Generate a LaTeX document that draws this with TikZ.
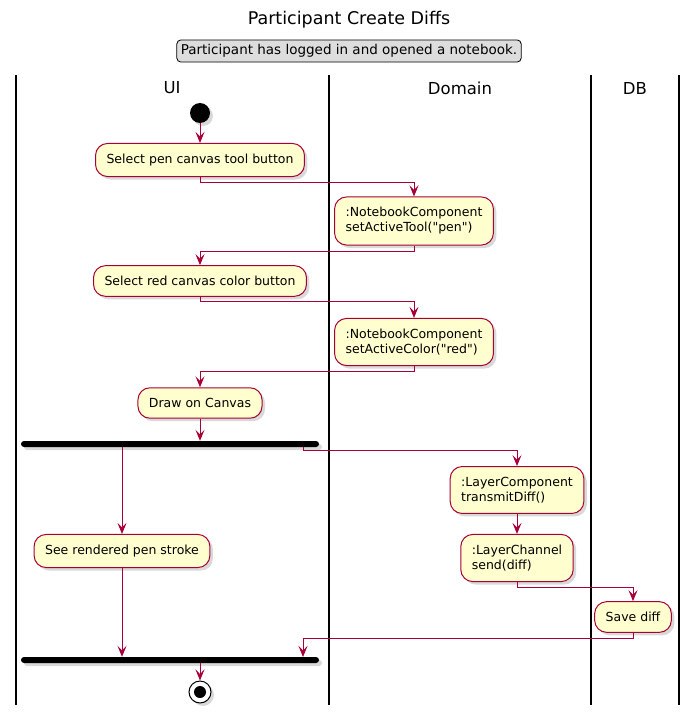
\documentclass[tikz,border=0pt]{standalone}
\usepackage{fontspec}
\setmainfont{DejaVu Sans}
\usetikzlibrary{arrows.meta,positioning,shadows}
\definecolor{actfill}{HTML}{FEFECE}
\definecolor{actline}{HTML}{A80036}
\definecolor{notefill}{HTML}{DDDDDD}
\tikzset{
  shade me/.style={drop shadow={opacity=0.3, shadow xshift=3pt, shadow yshift=-3pt}},
  activity/.style={draw=actline, fill=actfill, rounded corners=12pt, line width=1pt,
    font=\fontsize{12.5}{15}\selectfont, align=left, inner xsep=11pt, inner ysep=10.5pt, shade me},
  flow/.style={-{Stealth[length=11pt,width=9pt,inset=4.5pt]}, draw=actline, line width=1pt},
  sync bar/.style={fill=black, rounded corners=3pt, minimum width=298pt, minimum height=6pt,
    inner sep=0pt, shade me},
  lane/.style={line width=1.5pt},
  lane title/.style={font=\fontsize{16.5}{18}\selectfont},
}
\begin{document}
\begin{tikzpicture}[x=1pt, y=-1pt]
	\useasboundingbox (0,0) rectangle (699,720);
	% Title and note
	\node[font=\fontsize{17.5}{20}\selectfont] (title) at (349,20) {Participant Create Diffs};
	\node[draw, fill=notefill, rounded corners=4pt, line width=0.8pt, inner xsep=4pt, inner ysep=4.5pt,
	  font=\fontsize{13.5}{16}\selectfont] (note) at (349,51) {Participant has logged in and opened a notebook.};
	% Swimlanes
	\foreach \x in {16,329,591,679}
	  \draw[lane] (\x,75) -- (\x,705);
	\node[lane title] (ui) at (172,88) {UI};
	\node[lane title] (domain) at (460,88) {Domain};
	\node[lane title] (db) at (635,88) {DB};
	% Nodes
	\node[circle, fill=black, minimum size=20pt, inner sep=0pt, shade me] (start) at (200,113) {};
	\node[activity] (pen) at (200,160) {Select pen canvas tool button};
	\node[activity] (tool) at (414,221) {:NotebookComponent\\setActiveTool(\textquotedbl pen\textquotedbl)};
	\node[activity] (red) at (200,281) {Select red canvas color button};
	\node[activity] (color) at (414,342) {:NotebookComponent\\setActiveColor(\textquotedbl red\textquotedbl)};
	\node[activity] (draw) at (200,403) {Draw on Canvas};
	\node[sync bar] (fork) at (170,444) {};
	\node[activity] (stroke) at (122,551) {See rendered pen stroke};
	\node[activity] (layer) at (517,490) {:LayerComponent\\transmitDiff()};
	\node[activity] (channel) at (517,558) {:LayerChannel\\send(diff)};
	\node[activity] (save) at (633,617) {Save diff};
	\node[sync bar] (join) at (170,660) {};
	\node[circle, draw, fill=white, line width=1pt, minimum size=22pt, inner sep=0pt, shade me] (stop) at (200,692) {};
	\node[circle, fill=black, minimum size=12pt, inner sep=0pt] (stopdot) at (stop) {};
	\coordinate (forkout) at (303,447);
	\coordinate (joinin) at (303,657);
	% Edges
	\draw[flow] (start) -- (pen);
	\draw[flow] (pen.south) -- ++(0,5) -| (tool.north);
	\draw[flow] (tool.south) -- ++(0,6) -| (red.north);
	\draw[flow] (red.south) -- ++(0,5) -| (color.north);
	\draw[flow] (color.south) -- ++(0,5) -| (draw.north);
	\draw[flow] (draw.south) -- (draw.south |- fork.north);
	\draw[flow] (stroke.north |- fork.south) -- (stroke.north);
	\draw[flow] (forkout) -- ++(0,3) -| (layer.north);
	\draw[flow] (layer) -- (channel);
	\draw[flow] (channel.south) -- ++(0,5) -| (save.north);
	\draw[flow] (save.south) -- ++(0,6) -| (joinin);
	\draw[flow] (stroke.south) -- (stroke.south |- join.north);
	\draw[flow] (join.south -| stop.north) -- (stop.north);
\end{tikzpicture}
\end{document}
